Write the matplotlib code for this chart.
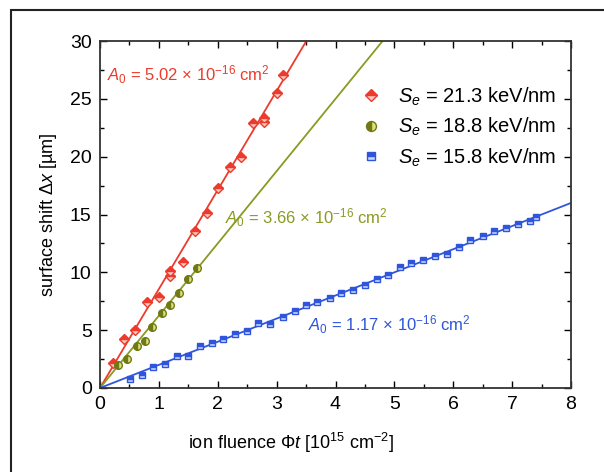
import matplotlib
matplotlib.use("Agg")
import matplotlib.pyplot as plt
import numpy as np
from matplotlib.patches import Rectangle

plt.rcParams["font.family"] = ["Liberation Sans", "DejaVu Sans"]
plt.rcParams["mathtext.fontset"] = "custom"
plt.rcParams["mathtext.rm"] = "Liberation Sans"
plt.rcParams["mathtext.it"] = "Liberation Sans:italic"

# Se = 21.3 keV/nm
red_x = [0.22, 0.40, 0.59, 0.80, 1.01, 1.19, 1.19, 1.41, 1.61, 1.81, 2.00, 2.20, 2.39, 2.60, 2.79, 2.79, 3.00, 3.11]
red_y = [2.2, 4.2, 5.0, 7.4, 7.9, 10.1, 9.7, 10.9, 13.6, 15.1, 17.3, 19.1, 20.0, 22.9, 23.3, 23.0, 25.5, 27.1]
# Se = 18.8 keV/nm
grn_x = [0.30, 0.46, 0.62, 0.76, 0.88, 1.05, 1.19, 1.35, 1.50, 1.64]
grn_y = [2.0, 2.5, 3.6, 4.1, 5.3, 6.45, 7.2, 8.2, 9.4, 10.4]
# Se = 15.8 keV/nm
blu_x = [0.51, 0.71, 0.90, 1.10, 1.31, 1.50, 1.70, 1.90, 2.09, 2.30, 2.49, 2.69, 2.89,
         3.10, 3.31, 3.50, 3.69, 3.90, 4.10, 4.30, 4.50, 4.71, 4.90, 5.09, 5.29, 5.49,
         5.69, 5.89, 6.10, 6.29, 6.50, 6.70, 6.89, 7.10, 7.30, 7.40]
blu_y = [0.75, 1.1, 1.8, 2.05, 2.8, 2.8, 3.6, 3.9, 4.2, 4.7, 4.9, 5.6, 5.5,
         6.15, 6.7, 7.2, 7.45, 7.75, 8.2, 8.45, 8.9, 9.4, 9.75, 10.5, 10.8, 11.1,
         11.4, 11.6, 12.2, 12.8, 13.1, 13.6, 13.8, 14.2, 14.4, 14.8]

# fitted slopes (um per 1e15 cm^-2)
slopes = [8.56, 6.25, 2.0]
labels = ["21.3", "18.8", "15.8"]
a0 = ["5.02", "3.66", "1.17"]

red = "#ec3b2c"
grn = "#8a9a22"
blu = "#2f55dc"

fig = plt.figure(figsize=(6.04, 4.72), dpi=100)
ax = fig.add_axes([100 / 604, 1 - 388 / 472, 471 / 604, 347 / 472])

xf = np.array([0, 8])
for s, c in zip(slopes, [red, grn, blu]):
    ax.plot(xf, s * xf, color=c, lw=1.3, zorder=2)

ax.plot(red_x, red_y, ls="none", marker="D", ms=5, color=red, fillstyle="top",
        markerfacecoloralt="#f6c6c0", mec=red, mew=1.0, zorder=3,
        label=r"$S_e$ = " + labels[0] + " keV/nm")
ax.plot(grn_x, grn_y, ls="none", marker="o", ms=5.5, color="#6f7a14", fillstyle="left",
        markerfacecoloralt="#dfe07a", mec="#6f7a14", mew=1.0, zorder=3,
        label=r"$S_e$ = " + labels[1] + " keV/nm")
ax.plot(blu_x, blu_y, ls="none", marker="s", ms=4.8, color=blu, fillstyle="top",
        markerfacecoloralt="#c9d6fb", mec=blu, mew=1.0, zorder=3,
        label=r"$S_e$ = " + labels[2] + " keV/nm")

ann = r"$A_0$ = {} × 10$^{{\mathregular{{-16}}}}$ cm$^{{2}}$"
ax.text(0.12, 27.05, ann.format(a0[0]), color=red, fontsize=12, va="center")
ax.text(2.12, 14.7, ann.format(a0[1]), color=grn, fontsize=12, va="center")
ax.text(3.53, 5.45, ann.format(a0[2]), color=blu, fontsize=12, va="center")

ax.set_xlim(0, 8)
ax.set_ylim(0, 30)
ax.set_xticks(range(0, 9))
ax.set_yticks(range(0, 31, 5))
ax.set_xticks(np.arange(0.5, 8, 1), minor=True)
ax.set_yticks(np.arange(2.5, 30, 5), minor=True)
ax.tick_params(which="both", direction="in", top=True, right=True, labelsize=14, width=1.0)
ax.tick_params(which="major", length=5, pad=6)
ax.tick_params(which="minor", length=3)
for sp in ax.spines.values():
    sp.set_linewidth(1.3)
    sp.set_color("#333333")

ax.set_xlabel(r"ion fluence $\Phi t$ [10$^{15}$ cm$^{-2}$]", fontsize=13)
ax.xaxis.set_label_coords((291 - 100) / 471, -0.125)
ax.set_ylabel(r"surface shift $\Delta x$ [µm]", fontsize=13)
ax.yaxis.set_label_coords(-0.088, 0.5)

ax.legend(loc="upper right", bbox_to_anchor=(0.985, 0.895), frameon=False, fontsize=14.5,
          handletextpad=0.7, labelspacing=0.4, handlelength=1.2, borderaxespad=0,
          markerscale=1.3)

fig.patches.append(Rectangle((11 / 604, -0.1), 1.2, 1 - 10 / 472 + 0.1, transform=fig.transFigure,
                             fill=False, ec="#222222", lw=1.5, clip_on=False))

fig.savefig("out.png", dpi=100)
